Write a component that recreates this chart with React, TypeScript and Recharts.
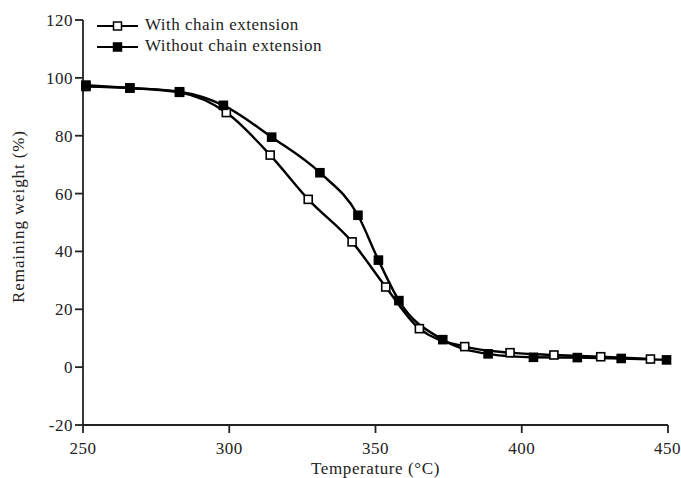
import React from "react";
import { LineChart, Line, XAxis, YAxis } from "recharts";

// TGA curves
const withTemp = [251, 266, 283, 299, 314, 327, 342, 353.5, 365, 380.5, 396, 411, 427, 444];
const withWeight = [97, 96.5, 95, 88, 73.3, 58, 43.3, 27.7, 13.3, 7.1, 5.0, 4.2, 3.6, 2.8];
const withoutTemp = [251, 266, 283, 298, 314.5, 331, 344, 351, 358, 373, 388.5, 404, 419, 434, 449.5];
const withoutWeight = [97.5, 96.5, 95.2, 90.5, 79.5, 67.2, 52.5, 37, 23, 9.5, 4.6, 3.4, 3.3, 3.0, 2.5];

const xTicks = [250, 300, 350, 400, 450];
const yTicks = [-20, 0, 20, 40, 60, 80, 100, 120];

const FONT = "'Liberation Serif', 'Times New Roman', serif";

const withData = withTemp.map((t, i) => ({ t, w: withWeight[i] }));
const withoutData = withoutTemp.map((t, i) => ({ t, w: withoutWeight[i] }));

// square markers, open or filled
const SquareDot = (filled: boolean) => (props: any) => {
  const { cx, cy, index } = props;
  if (cx == null || cy == null) return null;
  return (
    <rect
      key={`sq-${filled ? "f" : "o"}-${index}`}
      x={cx - 4}
      y={cy - 4}
      width={8}
      height={8}
      fill={filled ? "#000" : "#fff"}
      stroke="#000"
      strokeWidth={1.6}
    />
  );
};

const LegendMark = ({ filled }: { filled: boolean }) => (
  <svg width={41} height={12} style={{ marginRight: 7, verticalAlign: "middle" }}>
    <line x1={0} y1={6} x2={41} y2={6} stroke="#000" strokeWidth={2} />
    <rect
      x={16.5}
      y={2}
      width={8}
      height={8}
      fill={filled ? "#000" : "#fff"}
      stroke="#000"
      strokeWidth={1.5}
    />
  </svg>
);

const YLabel = (props: any) => {
  const vb = props.viewBox || { x: 0, y: 0, height: 0 };
  const x = vb.x + 18;
  const y = vb.y + vb.height / 2 - 6;
  return (
    <text
      x={x}
      y={y}
      transform={`rotate(-90 ${x} ${y})`}
      textAnchor="middle"
      dominantBaseline="central"
      fontFamily={FONT}
      fontSize={17}
      letterSpacing={0.9}
      fill="#222"
    >
      Remaining weight (%)
    </text>
  );
};

const tickStyle = { fill: "#222", fontSize: 17, fontFamily: FONT, letterSpacing: 0.5 };

export default function App() {
  return (
    <div style={{ position: "absolute", left: 0, top: 0, width: 681, height: 478, background: "#fff" }}>
      <LineChart
        width={681}
        height={478}
        margin={{ top: 20, right: 13, left: 0, bottom: 0 }}
        style={{ fontFamily: FONT }}
      >
        <XAxis
          dataKey="t"
          type="number"
          domain={[250, 450]}
          ticks={xTicks}
          allowDuplicatedCategory={false}
          height={53}
          tickSize={8}
          tickMargin={9}
          stroke="#222"
          strokeWidth={1.8}
          tick={tickStyle}
          label={{
            value: "Temperature (\u00b0C)",
            position: "insideBottom",
            offset: 0,
            dy: -4,
            fill: "#222",
            fontSize: 17,
            fontFamily: FONT,
            letterSpacing: 0.6,
          }}
        />
        <YAxis
          type="number"
          domain={[-20, 120]}
          ticks={yTicks}
          width={83}
          tickSize={8}
          tickMargin={2}
          stroke="#222"
          strokeWidth={1.8}
          tick={tickStyle}
          label={<YLabel />}
        />
        <Line
          data={withData}
          dataKey="w"
          type="monotone"
          stroke="#000"
          strokeWidth={2.4}
          dot={SquareDot(false)}
          activeDot={false}
          isAnimationActive={false}
        />
        <Line
          data={withoutData}
          dataKey="w"
          type="monotone"
          stroke="#000"
          strokeWidth={2.4}
          dot={SquareDot(true)}
          activeDot={false}
          isAnimationActive={false}
        />
      </LineChart>
      <div
        style={{
          position: "absolute",
          left: 97,
          top: 14,
          fontFamily: FONT,
          fontSize: 17,
          letterSpacing: 0.5,
          color: "#222",
          lineHeight: "21px",
        }}
      >
        <div>
          <LegendMark filled={false} />
          With chain extension
        </div>
        <div>
          <LegendMark filled={true} />
          Without chain extension
        </div>
      </div>
    </div>
  );
}
